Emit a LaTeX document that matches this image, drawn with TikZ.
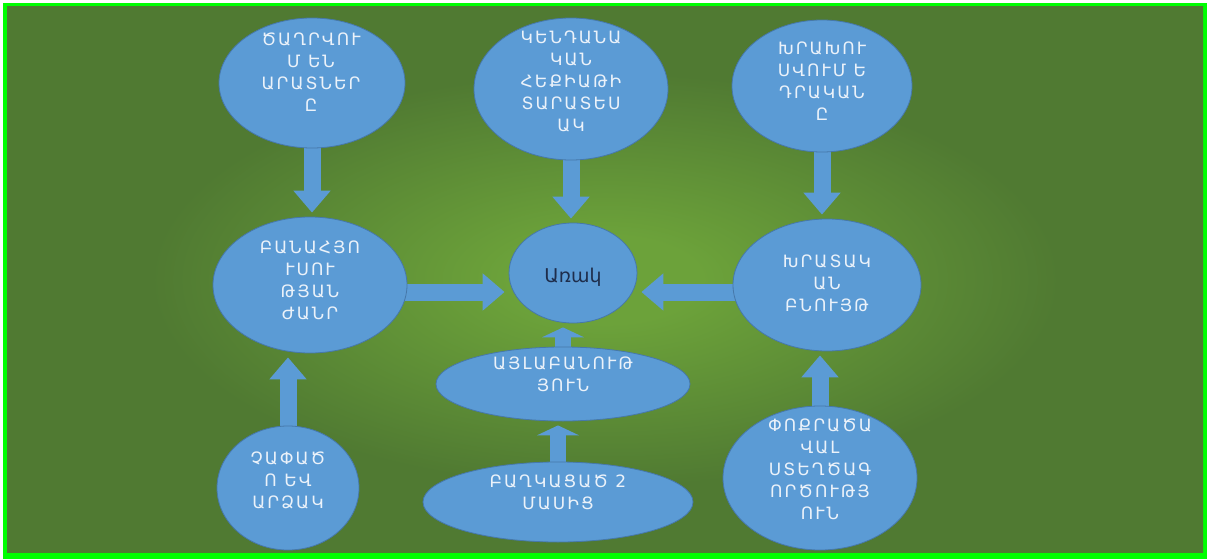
\documentclass[tikz,border=0pt]{standalone}
\usepackage{fontspec}
\usetikzlibrary{shapes.geometric,arrows.meta}
\newfontfamily\armfont[LetterSpace=12]{DejaVu Sans}
\newfontfamily\armplain{DejaVu Sans}
\definecolor{bgdark}{RGB}{80,122,50}
\definecolor{bglight}{RGB}{108,162,58}
\definecolor{framegreen}{RGB}{0,255,0}
\definecolor{cblob}{RGB}{91,155,213}
\definecolor{cblobline}{RGB}{70,120,170}
\definecolor{txtw}{RGB}{235,242,250}
\definecolor{txtd}{RGB}{30,45,75}
\pgfdeclareradialshading{glow}{\pgfpoint{0bp}{0bp}}{color(0bp)=(bglight); color(4bp)=(bglight); color(19bp)=(bgdark); color(50bp)=(bgdark)}
\pgfdeclarelayer{bg}
\pgfsetlayers{bg,main}
\begin{document}
\begin{tikzpicture}[x=1pt,y=-1pt,
  blob/.style={ellipse, fill=cblob, draw=cblobline, line width=0.8pt, inner sep=0pt},
  lbl/.style={text=txtw, font=\armfont\fontsize{17}{22}\selectfont, align=center, inner sep=0pt},
  blk/.style={draw=cblob, line width=17pt, -{Triangle[width=36pt,length=22pt]}, shorten >=4pt, shorten <=-6pt},
  blks/.style={draw=cblob, line width=16pt, -{Triangle[width=42pt,length=10pt]}, shorten >=4pt, shorten <=-6pt}]
\useasboundingbox (0,0) rectangle (1207,559);

% ellipses
\node[blob, minimum width=186pt, minimum height=130pt] (n1) at (312,83) {};
\node[blob, minimum width=194pt, minimum height=142pt] (n2) at (571,89) {};
\node[blob, minimum width=180pt, minimum height=132pt] (n3) at (822,86) {};
\node[blob, minimum width=194pt, minimum height=136pt] (n4) at (310,285) {};
\node[blob, minimum width=128pt, minimum height=100pt] (n5) at (573,273) {};
\node[blob, minimum width=188pt, minimum height=132pt] (n6) at (827,285) {};
\node[blob, minimum width=254pt, minimum height=74pt] (n7) at (563,384) {};
\node[blob, minimum width=270pt, minimum height=80pt] (n8) at (558,502) {};
\node[blob, minimum width=142pt, minimum height=124pt] (n9) at (288,488) {};
\node[blob, minimum width=194pt, minimum height=144pt] (n10) at (820,478) {};

% texts
\node[lbl] (t1) at (311,72) {ԾԱՂՐՎՈՒ\\Մ ԵՆ\\ԱՐԱՏՆԵՐ\\Ը};
\node[lbl] (t2) at (571,81) {ԿԵՆԴԱՆԱ\\ԿԱՆ\\ՀԵՔԻԱԹԻ\\ՏԱՐԱՏԵՍ\\ԱԿ};
\node[lbl] (t3) at (822,81) {ԽՐԱԽՈՒ\\ՍՎՈՒՄ Ե\\ԴՐԱԿԱՆ\\Ը};
\node[lbl] (t4) at (310,280) {ԲԱՆԱՀՅՈ\\ՒՍՈՒ\\ԹՅԱՆ\\ԺԱՆՐ};
\node[text=txtd, font=\armplain\fontsize{19}{22}\selectfont, inner sep=0pt] (t5) at (573,277) {Առակ};
\node[lbl] (t6) at (827,283) {ԽՐԱՏԱԿ\\ԱՆ\\ԲՆՈՒՅԹ};
\node[lbl] (t7) at (563,374) {ԱՅԼԱԲԱՆՈՒԹ\\ՅՈՒՆ};
\node[lbl] (t8) at (558,492) {ԲԱՂԿԱՑԱԾ 2\\ՄԱՍԻՑ};
\node[lbl] (t9) at (288,480) {ՉԱՓԱԾ\\Ո ԵՎ\\ԱՐՁԱԿ};
\node[lbl] (t10) at (820,469) {ՓՈՔՐԱԾԱ\\ՎԱԼ\\ՍՏԵՂԾԱԳ\\ՈՐԾՈՒԹՅ\\ՈՒՆ};

\coordinate (h1) at ([yshift=-7pt]n4.east);
\coordinate (h2) at (h1 -| n5.west);
\coordinate (h3) at ([yshift=-7pt]n6.west);
\coordinate (h4) at (h3 -| n5.east);

\begin{pgfonlayer}{bg}
  \fill[white] (0,0) rectangle (1207,559);
  \fill[framegreen] (3,3) rectangle (1207,559);
  \shade[shading=glow] (7,7) rectangle (1203,552);
  % block arrows
  \draw[blk] (n1.south) -- (n1.south |- n4.north);
  \draw[blk] (n2.south) -- (n2.south |- n5.north);
  \draw[blk] (n3.south) -- (n3.south |- n6.north);
  \draw[blk] (h1) -- (h2);
  \draw[blk] (h3) -- (h4);
  \draw[blk] (n9.north) -- (n9.north |- n4.south);
  \draw[blk] (n10.north) -- (n10.north |- n6.south);
  \draw[blks] (n7.north) -- (n7.north |- n5.south);
  \draw[blks] (n8.north) -- (n8.north |- n7.south);
\end{pgfonlayer}
\end{tikzpicture}
\end{document}
